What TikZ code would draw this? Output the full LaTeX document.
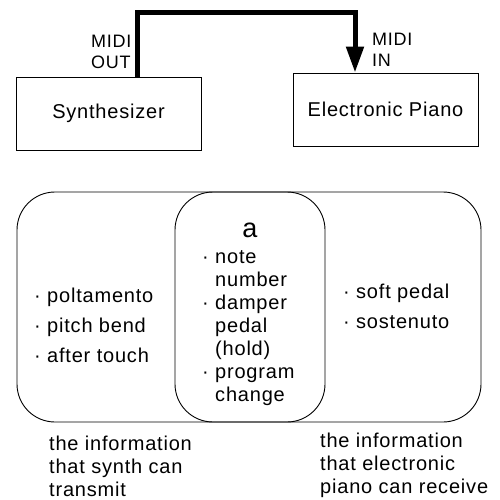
\documentclass[tikz,border=0pt]{standalone}
\usepackage{fontspec}
\setmainfont{Liberation Sans}[LetterSpace=4]
\usetikzlibrary{arrows.meta}
\newcommand\myb{\makebox[13pt][l]{·}}
\newcommand\myi{\hspace*{13pt}}
\begin{document}
\begin{tikzpicture}[x=1pt,y=-1pt,
  box/.style={draw, line width=0.9pt, minimum width=185pt, minimum height=73pt, inner sep=0pt, font=\fontsize{20}{24}\selectfont},
  setbox/.style={draw, line width=0.9pt, rounded corners=38pt, inner sep=0pt},
  lbl/.style={inner sep=0pt, anchor=north west, align=left, font=\fontsize{18}{21}\selectfont},
  lst/.style={inner sep=0pt, anchor=north west, align=left},
  conn/.style={line width=5pt, -{Triangle[length=26pt,width=17pt]}}
]
\useasboundingbox (0,0) rectangle (500,500);

\node[box] (synth) at (108.5,113.5) {Synthesizer};
\node[box] (piano) at (385.5,109.5) {Electronic Piano};
\draw[conn] ([xshift=28.5pt]synth.north) -- ++(0,-64) -| ([xshift=-30.5pt]piano.north);

\node[lbl] (out) at (91,33) {\rule{0pt}{14pt}MIDI\\OUT};
\node[lbl] (in) at (372,31) {\rule{0pt}{14pt}MIDI\\IN};

\draw[setbox] (17,192) rectangle (325,422);
\draw[setbox] (175,192) rectangle (481,422);

\node[inner sep=0pt, anchor=base, font=\fontsize{27}{30}\selectfont] (a) at (250,237) {a};
\node[lst, font=\fontsize{20}{23}\selectfont] (common) at (202,247) {\rule{0pt}{16pt}\myb note\\ \myi number\\ \myb damper\\ \myi pedal\\ \myi (hold)\\ \myb program\\ \myi change};
\node[lst, font=\fontsize{20}{30}\selectfont] (synthonly) at (34,286) {\rule{0pt}{16pt}\myb poltamento\\ \myb pitch bend\\ \myb after touch};
\node[lst, font=\fontsize{20}{30}\selectfont] (pianoonly) at (343,282) {\rule{0pt}{16pt}\myb soft pedal\\ \myb sostenuto};
\node[lst, font=\fontsize{20}{23}\selectfont] (captl) at (49,434) {\rule{0pt}{16pt}the information\\ that synth can\\ transmit};
\node[lst, font=\fontsize{20}{23}\selectfont] (captr) at (320,431) {\rule{0pt}{16pt}the information\\ that electronic\\ piano can receive};
\end{tikzpicture}
\end{document}
